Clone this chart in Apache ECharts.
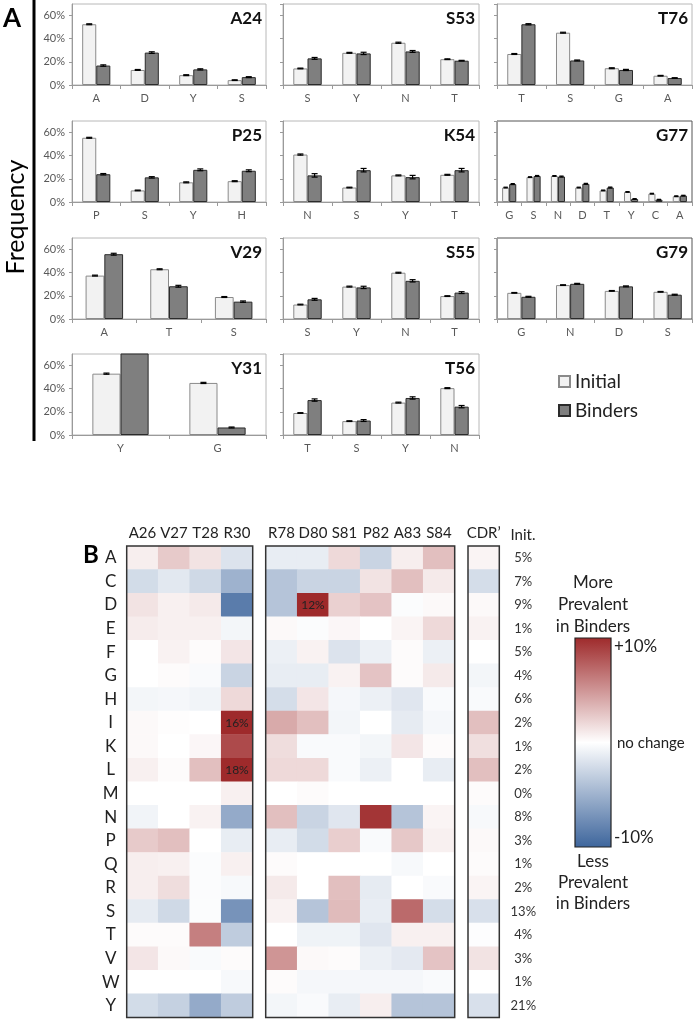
<!DOCTYPE html>
<html><head><meta charset="utf-8">
<script src="https://cdn.jsdelivr.net/npm/echarts@6/dist/echarts.min.js"></script>
<style>html,body{margin:0;padding:0;background:#fff}#c{width:693px;height:1019px}</style>
</head><body><div id="c"></div>
<script>
// ---------- Panel A data (frequency %, error %) ----------
const a24Cats=['A','D','Y','S'], a24Init=[52.5,13,8.5,4.2], a24Bind=[16.8,28,13.5,6.8], a24InitErr=[0.4,0.4,0.4,0.3], a24BindErr=[0.6,0.7,0.5,0.4];
const s53Cats=['S','Y','N','T'], s53Init=[14.3,27.8,36.5,22.3], s53Bind=[23,27.3,29,21], s53InitErr=[0.3,0.4,0.5,0.3], s53BindErr=[0.8,1,0.8,0.3];
const t76Cats=['T','S','G','A'], t76Init=[26.8,45.2,14.5,8], t76Bind=[52.5,21.2,13,6], t76InitErr=[0.4,0.4,0.4,0.3], t76BindErr=[0.5,0.4,0.5,0.3];
const p25Cats=['P','S','Y','H'], p25Init=[55.5,10,17,18], p25Bind=[24,21.3,27.8,27], p25InitErr=[0.4,0.3,0.4,0.4], p25BindErr=[0.6,0.6,0.8,0.8];
const k54Cats=['N','S','Y','T'], k54Init=[41,12.5,23,23.5], k54Bind=[23,27.5,21.5,27.5], k54InitErr=[0.5,0.3,0.4,0.4], k54BindErr=[1.5,1.5,1.5,1.5];
const g77Cats=['G','S','N','D','T','Y','C','A'], g77Init=[12.5,21.5,22.5,12.5,10,8.7,7.2,5], g77Bind=[15.5,22.5,22,15.7,12.5,2.6,2,5.5], g77InitErr=[0.3,0.3,0.3,0.3,0.3,0.3,0.3,0.3], g77BindErr=[0.4,0.4,0.4,0.4,0.4,0.3,0.3,0.3];
const v29Cats=['A','T','S'], v29Init=[37.5,43,19], v29Bind=[56,28.3,15], v29InitErr=[0.4,0.4,0.4], v29BindErr=[0.8,0.8,0.6];
const s55Cats=['S','Y','N','T'], s55Init=[12.5,28,40,19.8], s55Bind=[17,27.3,33,22.8], s55InitErr=[0.3,0.4,0.4,0.3], s55BindErr=[0.8,1,1,0.8];
const g79Cats=['G','N','D','S'], g79Init=[22.6,29.3,24.3,23.5], g79Bind=[19.2,30.4,28.2,21], g79InitErr=[0.3,0.3,0.3,0.3], g79BindErr=[0.4,0.4,0.4,0.4];
const y31Cats=['Y','G'], y31Init=[53,45], y31Bind=[72,6.5], y31InitErr=[0.5,0.5], y31BindErr=[0,0.4];
const t56Cats=['T','S','Y','N'], t56Init=[19,12,28,40.5], t56Bind=[30.2,12.5,32,24.5], t56InitErr=[0.3,0.3,0.4,0.4], t56BindErr=[1,0.8,1,1];

// ---------- Panel B data (change in %, binders - initial) ----------
const hmRows=['A','C','D','E','F','G','H','I','K','L','M','N','P','Q','R','S','T','V','W','Y'];
const hmCols1=['A26','V27','T28','R30'];
const hmCols2=['R78','D80','S81','P82','A83','S84'];
const hmCols3=['CDR’'];
const initPct=['5%','7%','9%','1%','5%','4%','6%','2%','1%','2%','0%','8%','3%','1%','2%','13%','4%','3%','1%','21%'];
//          A26  V27  T28  R30 | R78  D80  S81  P82  A83  S84 | CDR'
const hA=[ 0.8, 2.5, 1.3,-1.8,-1.2,-1.2, 1.8,-2.8, 0.8, 3.0, 0.5];
const hC=[-2.3,-1.5,-2.5,-5.0,-3.8,-2.8,-2.8, 1.3, 3.0, 1.0,-2.2];
const hD=[ 1.3, 0.7, 1.0,-8.5,-3.8,12.0, 2.2, 2.8,-0.2, 0.3, 0.3];
const hE=[ 0.9, 0.7, 0.7,-0.6, 0.3,-0.2, 0.4, 0.0, 0.5, 1.8, 0.6];
const hF=[ 0.0, 0.6, 0.2, 1.2,-1.0, 0.6,-1.8,-1.0, 0.2,-1.0, 0.0];
const hG=[ 0.0, 0.2,-0.3,-2.8,-1.2,-1.2, 0.6, 2.8, 0.2, 1.0,-0.6];
const hH=[-0.6,-0.5,-0.7, 1.8,-2.2, 1.2,-0.5,-1.0,-1.6,-0.3,-0.3];
const hI=[ 0.3, 0.1, 0.0,16.0, 4.0, 3.0,-0.6, 0.0,-1.3,-0.5, 3.0];
const hK=[ 0.3, 0.0, 0.4, 8.5, 1.6,-0.3,-0.3,-0.6, 1.2, 0.2, 1.5];
const hL=[ 0.7, 0.2, 3.0,18.0, 1.8, 1.8,-0.3,-1.0, 0.0,-1.2, 3.0];
const hM=[ 0.0, 0.0, 0.0, 0.7, 0.0, 0.2, 0.0, 0.0, 0.0, 0.0, 0.2];
const hN=[-0.7, 0.0, 0.6,-5.5, 3.0,-2.8,-1.6, 9.5,-3.8, 0.5,-0.4];
const hP=[ 2.5, 3.0, 0.0,-1.2,-1.2,-2.3, 2.3,-0.3, 2.6, 0.7, 0.3];
const hQ=[ 0.8, 0.7,-0.2, 0.7, 0.2, 0.0, 0.0, 0.0,-0.4, 0.0, 0.2];
const hR=[ 0.8, 1.6,-0.2,-0.4, 1.0, 0.0, 3.0,-1.3, 0.0,-0.3, 0.5];
const hS=[-1.3,-2.5,-0.2,-7.0, 0.6,-3.8, 3.2,-1.2, 7.0,-2.2,-2.0];
const hT=[ 0.2, 0.2, 6.0,-3.3, 0.0,-0.8,-0.8,-1.6, 0.7, 0.7,-0.1];
const hV=[ 1.2, 0.3,-0.3, 0.2, 5.0, 0.3, 0.2,-1.0,-1.4, 2.8, 1.3];
const hW=[ 0.0, 0.0, 0.0,-0.4, 0.2,-0.5,-0.5,-0.5,-0.5,-0.3, 0.0];
const hY=[-2.3,-3.0,-5.5,-3.3,-0.6,-0.3,-1.2, 0.8,-3.8,-3.8,-2.0];
const heatValues=[hA,hC,hD,hE,hF,hG,hH,hI,hK,hL,hM,hN,hP,hQ,hR,hS,hT,hV,hW,hY];

// ---------- layout ----------
const FONT='Lato, "Open Sans", sans-serif';
const panels=[
 {name:'A24',cats:a24Cats,init:a24Init,bind:a24Bind,ie:a24InitErr,be:a24BindErr,col:0,row:0},
 {name:'S53',cats:s53Cats,init:s53Init,bind:s53Bind,ie:s53InitErr,be:s53BindErr,col:1,row:0},
 {name:'T76',cats:t76Cats,init:t76Init,bind:t76Bind,ie:t76InitErr,be:t76BindErr,col:2,row:0},
 {name:'P25',cats:p25Cats,init:p25Init,bind:p25Bind,ie:p25InitErr,be:p25BindErr,col:0,row:1},
 {name:'K54',cats:k54Cats,init:k54Init,bind:k54Bind,ie:k54InitErr,be:k54BindErr,col:1,row:1},
 {name:'G77',cats:g77Cats,init:g77Init,bind:g77Bind,ie:g77InitErr,be:g77BindErr,col:2,row:1},
 {name:'V29',cats:v29Cats,init:v29Init,bind:v29Bind,ie:v29InitErr,be:v29BindErr,col:0,row:2},
 {name:'S55',cats:s55Cats,init:s55Init,bind:s55Bind,ie:s55InitErr,be:s55BindErr,col:1,row:2},
 {name:'G79',cats:g79Cats,init:g79Init,bind:g79Bind,ie:g79InitErr,be:g79BindErr,col:2,row:2},
 {name:'Y31',cats:y31Cats,init:y31Init,bind:y31Bind,ie:y31InitErr,be:y31BindErr,col:0,row:3},
 {name:'T56',cats:t56Cats,init:t56Init,bind:t56Bind,ie:t56InitErr,be:t56BindErr,col:1,row:3}
];
const colX=[72,283,497], colW=[194,196,195], rowY=[4,121,238,354], boxH=81;
const BARFRAC=0.58;

const grids=[], xAxes=[], yAxes=[], series=[], graphics=[];

function errSeries(i, vals, errs, side){
  return {type:'custom', xAxisIndex:i, yAxisIndex:i, clip:true, silent:true, z:5,
    data: vals.map((v,k)=>[k,v,errs[k]]),
    encode:{x:0,y:1},
    renderItem:function(params, api){
      const k=api.value(0), v=api.value(1), e=api.value(2);
      if(!e) return null;
      const catW=api.size([1,0])[0];
      const barW=catW*BARFRAC/2;
      const c=api.coord([k,v]);
      const cx=c[0]+side*barW/2;
      const yt=api.coord([k,v+e])[1], yb=api.coord([k,v-e])[1];
      const hw=Math.min(3, barW*0.3);
      const st={stroke:'#000', lineWidth:1.2};
      return {type:'group', children:[
        {type:'line', shape:{x1:cx,y1:yt,x2:cx,y2:yb}, style:st},
        {type:'line', shape:{x1:cx-hw,y1:yt,x2:cx+hw,y2:yt}, style:st},
        {type:'line', shape:{x1:cx-hw,y1:yb,x2:cx+hw,y2:yb}, style:st}
      ]};
    }};
}

panels.forEach((p,i)=>{
  const left=colX[p.col], top=rowY[p.row], w=colW[p.col];
  grids.push({left:left, top:top, width:w, height:boxH, show:true,
    borderColor:(p.col===2 && p.row>0)?'#555':'#b8b8b8', borderWidth:1});
  xAxes.push({gridIndex:i, type:'category', data:p.cats,
    axisLine:{lineStyle:{color:'#9a9a9a'}},
    axisTick:{show:true, length:4, lineStyle:{color:'#9a9a9a'}},
    axisLabel:{interval:0, color:'#595959', fontSize:11, margin:8, fontFamily:FONT}});
  yAxes.push({gridIndex:i, type:'value', min:0, max:70, interval:20,
    splitLine:{show:false},
    axisLine:{show:true, lineStyle:{color:'#9a9a9a'}},
    axisTick:{show:true, length:3, lineStyle:{color:'#9a9a9a'}},
    axisLabel:{show:p.col===0, showMaxLabel:false, formatter:v=>v>60?'':v+'%', color:'#595959', fontSize:11, margin:7, fontFamily:FONT}});
  series.push({type:'bar', name:'Initial', xAxisIndex:i, yAxisIndex:i, data:p.init, barGap:'0%', barCategoryGap:'42%', clip:true,
    itemStyle:{color:'#f2f2f2', borderColor:'#8a8a8a', borderWidth:1}});
  series.push({type:'bar', name:'Binders', xAxisIndex:i, yAxisIndex:i, data:p.bind, barGap:'0%', barCategoryGap:'42%', clip:true,
    itemStyle:{color:'#7f7f7f', borderColor:'#2b2b2b', borderWidth:1}});
  series.push(errSeries(i,p.init,p.ie,-1));
  series.push(errSeries(i,p.bind,p.be,1));
  graphics.push({type:'text', x:left+w-4, y:top+6, z:50,
    style:{text:p.name, font:'bold 17px '+FONT, fill:'#111', textAlign:'right', textVerticalAlign:'top'}});
});

// ---------- heatmap ----------
const hmTop=546, hmH=471.4;
const blocks=[
  {cols:hmCols1, off:0, left:126.7, width:126},
  {cols:hmCols2, off:4, left:265.7, width:189},
  {cols:hmCols3, off:10, left:468, width:31.3}
];
const heatSeriesIdx=[];
blocks.forEach((b,bi)=>{
  const gi=grids.length;
  grids.push({left:b.left, top:hmTop, width:b.width, height:hmH, show:false});
  xAxes.push({gridIndex:gi, type:'category', position:'top', data:b.cols,
    axisLine:{show:false}, axisTick:{show:false}, splitLine:{show:false},
    axisLabel:{interval:0, hideOverlap:false, color:'#222', fontSize:15, margin:5, fontFamily:FONT}});
  const yAx={gridIndex:gi, type:'category', data:hmRows, inverse:true,
    axisLine:{show:false}, axisTick:{show:false}, splitLine:{show:false},
    axisLabel:{show:false}};
  if(bi===0){ yAx.axisLabel={show:true, interval:0, color:'#222', fontSize:17, margin:16, align:'center', fontFamily:FONT}; }
  if(bi===2){ yAx.position='right'; yAx.axisLabel={show:true, interval:0, color:'#333', fontSize:13, margin:24, align:'center', fontFamily:FONT,
     formatter:(v,idx)=>initPct[idx]}; }
  yAxes.push(yAx);
  const data=[];
  hmRows.forEach((r,ri)=>{ b.cols.forEach((c,ci)=>{ data.push([ci,ri,heatValues[ri][b.off+ci]]); }); });
  heatSeriesIdx.push(series.length);
  series.push({type:'heatmap', xAxisIndex:gi, yAxisIndex:gi, data:data, silent:true,
    label:{show:true, fontSize:12, color:'#222', fontFamily:FONT,
      formatter:p=>Math.abs(p.value[2])>10?p.value[2]+'%':''}});
  graphics.push({type:'rect', z:100, shape:{x:b.left, y:hmTop, width:b.width, height:hmH},
    style:{fill:'none', stroke:'#333', lineWidth:1.5}});
});

const RED='#9e2a2b', BLUE='#3d659c';
// colorbar & annotations
graphics.push(
  {type:'line', z:100, shape:{x1:34,y1:0,x2:34,y2:441}, style:{stroke:'#000', lineWidth:3}},
  {type:'text', x:12, y:19, style:{text:'A', font:'bold 26px '+FONT, fill:'#000', textAlign:'center', textVerticalAlign:'middle'}},
  {type:'text', x:16, y:217, rotation:Math.PI/2, style:{text:'Frequency', font:'25px '+FONT, fill:'#000', textAlign:'center', textVerticalAlign:'middle'}},
  {type:'text', x:91, y:555, style:{text:'B', font:'bold 24px '+FONT, fill:'#000', textAlign:'center', textVerticalAlign:'middle'}},
  {type:'text', x:523, y:535, style:{text:'Init.', font:'15px '+FONT, fill:'#222', textAlign:'center', textVerticalAlign:'middle'}},
  {type:'rect', z:60, shape:{x:575, y:638, width:36, height:209},
    style:{fill:new echarts.graphic.LinearGradient(0,0,0,1,[{offset:0,color:RED},{offset:0.5,color:'#ffffff'},{offset:1,color:BLUE}]), stroke:'#222', lineWidth:1.2}},
  {type:'text', x:593, y:583, style:{text:'More', font:'17px '+FONT, fill:'#222', textAlign:'center', textVerticalAlign:'middle'}},
  {type:'text', x:593, y:605, style:{text:'Prevalent', font:'17px '+FONT, fill:'#222', textAlign:'center', textVerticalAlign:'middle'}},
  {type:'text', x:593, y:627, style:{text:'in Binders', font:'17px '+FONT, fill:'#222', textAlign:'center', textVerticalAlign:'middle'}},
  {type:'text', x:614, y:647, style:{text:'+10%', font:'17px '+FONT, fill:'#222', textAlign:'left', textVerticalAlign:'middle'}},
  {type:'text', x:617, y:743, style:{text:'no change', font:'15px '+FONT, fill:'#222', textAlign:'left', textVerticalAlign:'middle'}},
  {type:'text', x:614, y:838, style:{text:'-10%', font:'17px '+FONT, fill:'#222', textAlign:'left', textVerticalAlign:'middle'}},
  {type:'text', x:593, y:862, style:{text:'Less', font:'17px '+FONT, fill:'#222', textAlign:'center', textVerticalAlign:'middle'}},
  {type:'text', x:593, y:883, style:{text:'Prevalent', font:'17px '+FONT, fill:'#222', textAlign:'center', textVerticalAlign:'middle'}},
  {type:'text', x:593, y:904, style:{text:'in Binders', font:'17px '+FONT, fill:'#222', textAlign:'center', textVerticalAlign:'middle'}}
);

const chart=echarts.init(document.getElementById('c'),null,{renderer:'canvas'});
chart.setOption({
  animation:false,
  backgroundColor:'#fff',
  textStyle:{fontFamily:FONT},
  grid:grids, xAxis:xAxes, yAxis:yAxes, series:series,
  legend:{data:['Initial','Binders'], left:553, top:367, orient:'vertical', itemWidth:11, itemHeight:11, itemGap:10,
    icon:'rect', selectedMode:false, textStyle:{fontSize:19, color:'#222', fontFamily:FONT}},
  visualMap:{type:'continuous', show:false, min:-10, max:10, seriesIndex:heatSeriesIdx,
    inRange:{color:[BLUE,'#ffffff',RED]}},
  graphic:graphics
});
</script></body></html>
